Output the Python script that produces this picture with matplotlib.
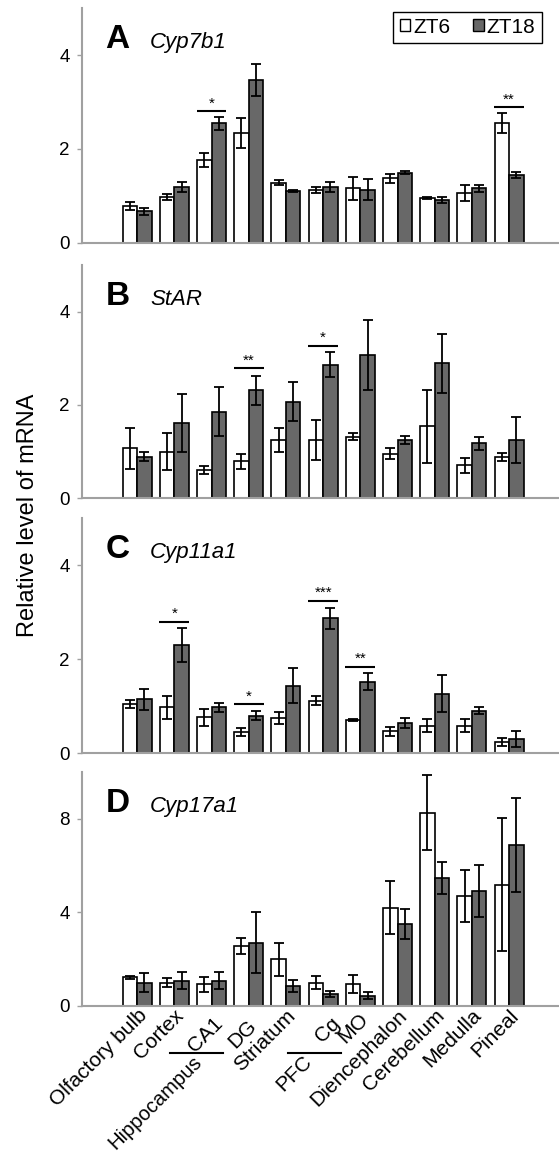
import matplotlib
matplotlib.use("Agg")
import matplotlib.pyplot as plt
from matplotlib.patches import Patch
from matplotlib.transforms import blended_transform_factory
import numpy as np

plt.rcParams['font.family'] = ['Liberation Sans', 'DejaVu Sans']

regions = ["Olfactory bulb", "Cortex", "CA1", "DG", "Striatum", "Cg", "MO",
           "Diencephalon", "Cerebellum", "Medulla", "Pineal"]

# Panel A: Cyp7b1
a_zt6 = [0.78, 0.98, 1.77, 2.34, 1.28, 1.13, 1.16, 1.37, 0.96, 1.06, 2.55]
a_zt6_err = [0.09, 0.06, 0.15, 0.31, 0.05, 0.06, 0.25, 0.10, 0.02, 0.18, 0.21]
a_zt18 = [0.67, 1.19, 2.55, 3.47, 1.10, 1.19, 1.13, 1.49, 0.91, 1.16, 1.45]
a_zt18_err = [0.08, 0.11, 0.14, 0.34, 0.02, 0.10, 0.22, 0.03, 0.06, 0.07, 0.06]
a_sig = [(2, 2.80, "*"), (10, 2.89, "**")]

# Panel B: StAR
b_zt6 = [1.07, 1.00, 0.61, 0.79, 1.25, 1.25, 1.32, 0.96, 1.54, 0.71, 0.89]
b_zt6_err = [0.44, 0.39, 0.08, 0.16, 0.25, 0.42, 0.07, 0.12, 0.79, 0.16, 0.08]
b_zt18 = [0.89, 1.61, 1.86, 2.32, 2.07, 2.86, 3.07, 1.25, 2.89, 1.18, 1.25]
b_zt18_err = [0.10, 0.62, 0.52, 0.31, 0.42, 0.27, 0.75, 0.08, 0.64, 0.14, 0.50]
b_sig = [(3, 2.79, "**"), (5, 3.27, "*")]

# Panel C: Cyp11a1
c_zt6 = [1.05, 0.98, 0.77, 0.45, 0.75, 1.12, 0.70, 0.47, 0.59, 0.59, 0.24]
c_zt6_err = [0.08, 0.24, 0.18, 0.09, 0.12, 0.10, 0.02, 0.10, 0.14, 0.13, 0.09]
c_zt18 = [1.15, 2.30, 0.98, 0.80, 1.44, 2.87, 1.52, 0.65, 1.27, 0.91, 0.31]
c_zt18_err = [0.22, 0.36, 0.10, 0.10, 0.38, 0.23, 0.18, 0.11, 0.40, 0.07, 0.17]
c_sig = [(1, 2.80, "*"), (3, 1.04, "*"), (5, 3.25, "***"), (6, 1.84, "**")]

# Panel D: Cyp17a1
d_zt6 = [1.22, 1.00, 0.93, 2.56, 2.00, 1.00, 0.93, 4.19, 8.24, 4.69, 5.18]
d_zt6_err = [0.07, 0.20, 0.32, 0.34, 0.71, 0.28, 0.39, 1.13, 1.60, 1.10, 2.83]
d_zt18 = [1.00, 1.08, 1.08, 2.70, 0.86, 0.51, 0.44, 3.48, 5.47, 4.90, 6.88]
d_zt18_err = [0.39, 0.35, 0.35, 1.30, 0.25, 0.14, 0.14, 0.64, 0.67, 1.10, 2.00]
d_sig = []

panels = [
    ("A", "Cyp7b1", a_zt6, a_zt6_err, a_zt18, a_zt18_err, a_sig, 5, [0, 2, 4]),
    ("B", "StAR", b_zt6, b_zt6_err, b_zt18, b_zt18_err, b_sig, 5, [0, 2, 4]),
    ("C", "Cyp11a1", c_zt6, c_zt6_err, c_zt18, c_zt18_err, c_sig, 5, [0, 2, 4]),
    ("D", "Cyp17a1", d_zt6, d_zt6_err, d_zt18, d_zt18_err, d_sig, 10, [0, 4, 8]),
]

W, H = 559, 1154
fig = plt.figure(figsize=(W / 100, H / 100), dpi=100)

extents = [(8.3, 242.7), (265.0, 498.3), (518.3, 753.3), (771.7, 1006.0)]
left_px = 81.7
dark = "#686868"
spine_col = "#a0a0a0"
bw = 0.39
x = np.arange(len(regions))

axes = []
for (letter, gene, z6, e6, z18, e18, sig, ymax, yt), (top, bot) in zip(panels, extents):
    ax = fig.add_axes([left_px / W, 1 - bot / H, 1 - left_px / W, (bot - top) / H])
    axes.append(ax)
    ekw = dict(ecolor="black", elinewidth=1.3, capsize=3.3, capthick=1.3)
    ax.bar(x - bw / 2, z6, bw, yerr=e6, color="white", edgecolor="black",
           linewidth=1.2, error_kw=ekw, zorder=2)
    ax.bar(x + bw / 2, z18, bw, yerr=e18, color=dark, edgecolor="black",
           linewidth=1.2, error_kw=ekw, zorder=2)
    ax.set_xlim(-1.49, 11.34)
    ax.set_ylim(0, ymax)
    ax.set_yticks(yt)
    ax.set_yticklabels([str(t) for t in yt])
    ax.set_xticks([])
    for s in ["top", "right"]:
        ax.spines[s].set_visible(False)
    for s in ["left", "bottom"]:
        ax.spines[s].set_color(spine_col)
        ax.spines[s].set_linewidth(1.5)
    ax.tick_params(axis="y", colors=spine_col, labelcolor="black", labelsize=13.5,
                   length=3.5, width=1.0, pad=5)
    ax.text(0.05, 0.83, letter, transform=ax.transAxes, fontsize=24,
            fontweight="bold", ha="left", va="baseline")
    ax.text(0.143, 0.83, gene, transform=ax.transAxes, fontsize=16,
            fontstyle="italic", ha="left", va="baseline")
    for gi, yy, lab in sig:
        ax.plot([gi - 0.4, gi + 0.4], [yy, yy], color="black", lw=1.5,
                solid_capstyle="butt", zorder=3)
        ax.annotate(lab, (gi, yy), xytext=(0, 0.5), textcoords="offset points",
                    ha="center", va="bottom", fontsize=11)

handles = [Patch(facecolor="white", edgecolor="black", linewidth=1.0),
           Patch(facecolor=dark, edgecolor="black", linewidth=1.0)]
leg = axes[0].legend(handles, ["ZT6", "ZT18"], loc="upper right",
                     bbox_to_anchor=(0.964, 0.986), ncol=2, fontsize=15,
                     handlelength=0.5, handleheight=0.5, handletextpad=0.15,
                     columnspacing=1.1, borderpad=0.3, fancybox=False,
                     framealpha=1, edgecolor="black", borderaxespad=0)
leg.get_frame().set_linewidth(1.0)

axd = axes[3]
trans = blended_transform_factory(axd.transData, axd.transAxes)
px_to_ax = 1.0 / (extents[3][1] - extents[3][0])
label_dx = [0, 0, 0.05, -0.05, 0, 0.2, -0.05, 0, 0, 0, 0]
label_dy = [0, 0, 8, 10, 0, 8, 4, 0, 0, 0, 0]
for i, lab in enumerate(regions):
    axd.text(i + label_dx[i], -(0 + label_dy[i]) * px_to_ax, lab, transform=trans,
             rotation=45, rotation_mode="anchor", ha="right", va="top",
             fontsize=15, clip_on=False)

group_labels = ["Hippocampus", "PFC"]
group_spans = [(0.88, 2.31), (4.05, 5.47)]
group_anchor = [1.47, 4.44]
group_font = [14.5, 15]
for lab, (x0, x1), xa, fs in zip(group_labels, group_spans, group_anchor, group_font):
    yl = -47 * px_to_ax
    axd.plot([x0, x1], [yl, yl], color="black", lw=1.5, transform=trans,
             clip_on=False)
    axd.text(xa, -46 * px_to_ax, lab, transform=trans, rotation=45,
             rotation_mode="anchor", ha="right", va="top", fontsize=fs,
             clip_on=False)

fig.text(0.05, 1 - 515 / H, "Relative level of mRNA", rotation=90,
         fontsize=17, ha="center", va="center")

fig.savefig("out.png", dpi=100)
